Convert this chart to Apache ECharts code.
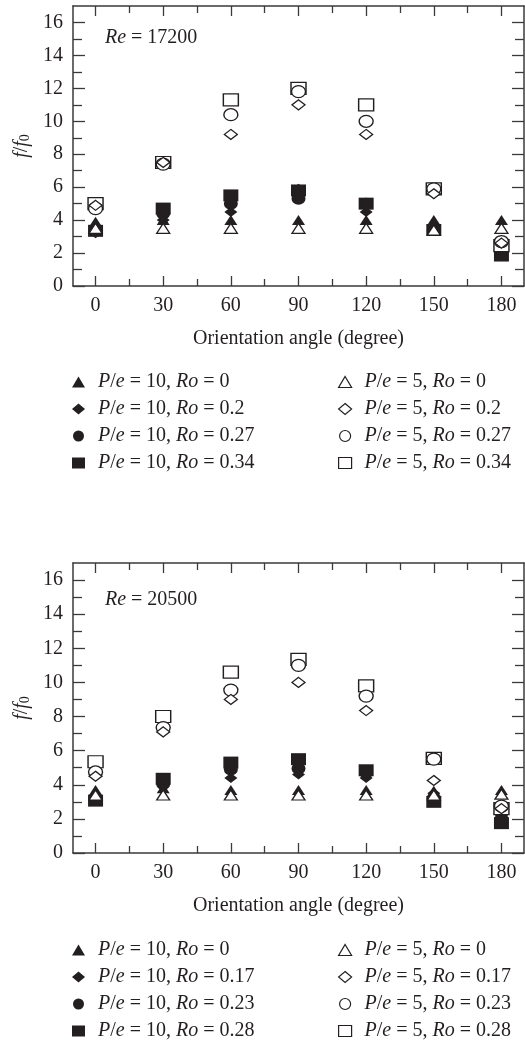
<!DOCTYPE html>
<html>
<head>
<meta charset="utf-8">
<script src="https://cdn.jsdelivr.net/npm/echarts@6/dist/echarts.min.js"></script>
<style>
html,body{margin:0;padding:0;background:#fff;}
#chart{width:525px;height:1044px;}
</style>
</head>
<body>
<div id="chart"></div>
<script>
// ---- data ----
const angles = [0, 30, 60, 90, 120, 150, 180];
const xMajorTicks = [0, 30, 60, 90, 120, 150, 180];
const xMinorTicks = [15, 45, 75, 105, 135, 165];
const yMajorTicks = [0, 2, 4, 6, 8, 10, 12, 14, 16];
const yMinorTicks = [1, 3, 5, 7, 9, 11, 13, 15];

// Re = 17200
const topPe10Ro0   = [3.9, 4.0, 4.0, 4.0, 4.0, 4.0, 4.0];
const topPe10Ro02  = [3.2, 4.0, 4.5, 5.9, 4.5, 3.4, 2.0];
const topPe10Ro027 = [3.4, 4.4, 5.0, 5.3, 5.0, 3.4, 2.0];
const topPe10Ro034 = [3.35, 4.7, 5.5, 5.8, 5.0, 3.4, 1.85];
const topPe5Ro0    = [3.5, 3.5, 3.5, 3.5, 3.5, 3.4, 3.5];
const topPe5Ro02   = [4.9, 7.5, 9.2, 11.0, 9.2, 5.6, 2.6];
const topPe5Ro027  = [4.7, 7.4, 10.4, 11.8, 10.0, 5.9, 2.7];
const topPe5Ro034  = [5.0, 7.5, 11.3, 12.0, 11.0, 5.9, 2.45];

// Re = 20500
const botPe10Ro0   = [3.7, 3.8, 3.7, 3.7, 3.7, 3.65, 3.7];
const botPe10Ro017 = [3.3, 3.9, 4.4, 4.6, 4.4, 3.5, 2.2];
const botPe10Ro023 = [3.1, 4.05, 4.9, 4.95, 4.7, 3.2, 2.0];
const botPe10Ro028 = [3.07, 4.35, 5.3, 5.5, 4.85, 3.0, 1.75];
const botPe5Ro0    = [3.4, 3.4, 3.4, 3.4, 3.4, 3.4, 3.45];
const botPe5Ro017  = [4.5, 7.1, 9.0, 10.0, 8.35, 4.25, 2.6];
const botPe5Ro023  = [4.75, 7.35, 9.55, 11.0, 9.2, 5.5, 2.75];
const botPe5Ro028  = [5.35, 8.0, 10.6, 11.35, 9.8, 5.55, 2.6];

const topRoValues = ['0', '0.2', '0.27', '0.34'];
const botRoValues = ['0', '0.17', '0.23', '0.28'];
const reLabels = ['17200', '20500'];

// ---- styling ----
const INK = '#231f20';
const LINE = '#3a3a3a';
const FONT = '"Liberation Serif", "DejaVu Serif", serif';
const FS = 20;

const shapes = ['triangle', 'diamond', 'circle', 'rect'];
const sizes = {triangle: [13, 10], diamond: [13, 10], circle: [14, 12], rect: [15, 12]};

const chart = echarts.init(document.getElementById('chart'));

const grids = [
  {left: 73, top: 6, width: 451, height: 280},
  {left: 73, top: 563, width: 451, height: 290}
];

const xAxes = [], yAxes = [], series = [], legends = [], titles = [];
const labelMap = {};

function makeAxes(g) {
  const xBase = xAxes.length, yBase = yAxes.length;
  const common = {min: -10, max: 190, gridIndex: g, type: 'value', splitLine: {show: false}};
  xAxes.push(Object.assign({}, common, {
    position: 'bottom',
    axisLine: {show: true, onZero: false, lineStyle: {color: LINE, width: 1.5}},
    axisTick: {show: true, inside: true, length: 10, customValues: xMajorTicks, lineStyle: {color: LINE, width: 1.3}},
    axisLabel: {show: true, customValues: xMajorTicks, margin: 10, color: INK, fontFamily: FONT, fontSize: FS},
    name: 'Orientation angle (degree)', nameLocation: 'middle', nameGap: 43,
    nameTextStyle: {color: INK, fontFamily: FONT, fontSize: FS}
  }));
  xAxes.push(Object.assign({}, common, {
    position: 'bottom',
    axisLine: {show: false, onZero: false},
    axisTick: {show: true, inside: true, length: 7, customValues: xMinorTicks, lineStyle: {color: LINE, width: 1.3}},
    axisLabel: {show: false}
  }));
  xAxes.push(Object.assign({}, common, {
    position: 'top',
    axisLine: {show: true, onZero: false, lineStyle: {color: LINE, width: 1.5}},
    axisTick: {show: true, inside: true, length: 10, customValues: xMajorTicks, lineStyle: {color: LINE, width: 1.3}},
    axisLabel: {show: false}
  }));
  xAxes.push(Object.assign({}, common, {
    position: 'top',
    axisLine: {show: false, onZero: false},
    axisTick: {show: true, inside: true, length: 7, customValues: xMinorTicks, lineStyle: {color: LINE, width: 1.3}},
    axisLabel: {show: false}
  }));
  const yc = {min: 0, max: 17, gridIndex: g, type: 'value', splitLine: {show: false}};
  yAxes.push(Object.assign({}, yc, {
    position: 'left',
    axisLine: {show: true, onZero: false, lineStyle: {color: LINE, width: 1.5}},
    axisTick: {show: true, inside: true, length: 12, customValues: yMajorTicks, lineStyle: {color: LINE, width: 1.3}},
    axisLabel: {show: true, customValues: yMajorTicks, margin: 10, color: INK, fontFamily: FONT, fontSize: FS},
    name: '{i|f}{n|/}{i|f}{s|0}', nameLocation: 'middle', nameGap: 38,
    nameTextStyle: {
      color: INK, fontFamily: FONT, fontSize: FS,
      rich: {
        i: {fontStyle: 'italic', fontFamily: FONT, fontSize: FS, color: INK},
        n: {fontFamily: FONT, fontSize: FS, color: INK},
        s: {fontFamily: FONT, fontSize: 14, color: INK, padding: [7, 0, 0, 0]}
      }
    }
  }));
  yAxes.push(Object.assign({}, yc, {
    position: 'left',
    axisLine: {show: false, onZero: false},
    axisTick: {show: true, inside: true, length: 9, customValues: yMinorTicks, lineStyle: {color: LINE, width: 1.3}},
    axisLabel: {show: false}
  }));
  yAxes.push(Object.assign({}, yc, {
    position: 'right',
    axisLine: {show: true, onZero: false, lineStyle: {color: LINE, width: 1.5}},
    axisTick: {show: true, inside: true, length: 12, customValues: yMajorTicks, lineStyle: {color: LINE, width: 1.3}},
    axisLabel: {show: false}
  }));
  yAxes.push(Object.assign({}, yc, {
    position: 'right',
    axisLine: {show: false, onZero: false},
    axisTick: {show: true, inside: true, length: 9, customValues: yMinorTicks, lineStyle: {color: LINE, width: 1.3}},
    axisLabel: {show: false}
  }));
  return {xBase, yBase};
}

function addChart(g, filledArrs, openArrs, roVals, legendTop, prefix) {
  const {xBase, yBase} = makeAxes(g);
  const filledNames = [], openNames = [];
  const describe = (arrs, filled, pe, namesOut) => {
    const list = [];
    arrs.forEach((arr, k) => {
      const shape = shapes[k];
      const name = prefix + (filled ? 'F' : 'O') + k;
      labelMap[name] = '{i|P}{n|/}{i|e} = ' + pe + ', {i|Ro} = ' + roVals[k];
      namesOut.push({
        name: name,
        icon: shape,
        itemStyle: filled ? {color: INK, borderWidth: 0} : {color: '#fff', borderColor: INK, borderWidth: 1.2}
      });
      list.push({
        type: 'scatter', name: name,
        xAxisIndex: xBase, yAxisIndex: yBase,
        symbol: shape, symbolSize: sizes[shape],
        itemStyle: filled ? {color: INK, opacity: 1} : {color: '#fff', borderColor: INK, borderWidth: 1.3, opacity: 1},
        emphasis: {disabled: true},
        data: arr.map((v, i) => [angles[i], v])
      });
    });
    // draw squares first, triangles last
    list.reverse().forEach(s => series.push(s));
  };
  describe(filledArrs, true, '10', filledNames);
  describe(openArrs, false, '5', openNames);
  const legendCommon = {
    orient: 'vertical', top: legendTop, itemWidth: 13, itemHeight: 11, itemGap: 7,
    padding: 0, selectedMode: false,
    formatter: (n) => labelMap[n],
    textStyle: {
      color: INK, fontFamily: FONT, fontSize: FS, lineHeight: 20, padding: [0, 0, 0, 8],
      rich: {
        i: {fontStyle: 'italic', fontFamily: FONT, fontSize: FS, color: INK, lineHeight: 20},
        n: {fontFamily: FONT, fontSize: FS, color: INK, lineHeight: 20}
      }
    }
  };
  legends.push(Object.assign({}, legendCommon, {left: 72, data: filledNames}));
  legends.push(Object.assign({}, legendCommon, {left: 338, data: openNames}));
}

addChart(0, [topPe10Ro0, topPe10Ro02, topPe10Ro027, topPe10Ro034],
            [topPe5Ro0, topPe5Ro02, topPe5Ro027, topPe5Ro034], topRoValues, 372, 't');
addChart(1, [botPe10Ro0, botPe10Ro017, botPe10Ro023, botPe10Ro028],
            [botPe5Ro0, botPe5Ro017, botPe5Ro023, botPe5Ro028], botRoValues, 940, 'b');

const reTops = [28, 590];
reLabels.forEach((re, i) => {
  titles.push({
    text: '{i|Re} = ' + re,
    left: 105, top: reTops[i], padding: 0,
    textStyle: {
      color: INK, fontFamily: FONT, fontSize: FS, fontWeight: 'normal',
      rich: {i: {fontStyle: 'italic', fontFamily: FONT, fontSize: FS, color: INK}}
    }
  });
});

chart.setOption({
  animation: false,
  backgroundColor: '#fff',
  title: titles,
  grid: grids,
  xAxis: xAxes,
  yAxis: yAxes,
  legend: legends,
  series: series
});
</script>
</body>
</html>
